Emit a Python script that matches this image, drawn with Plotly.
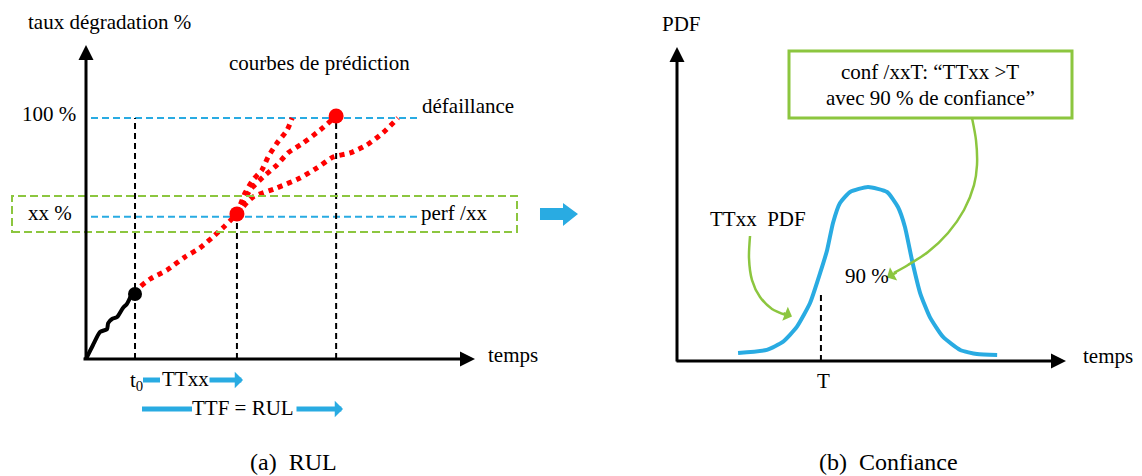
import plotly.graph_objects as go

W, H = 1142, 476

# ---------------- data (left panel: degradation % vs time, arbitrary units) ----------------
hist_t = [0, 1.8, 3.6, 5.4, 5.7, 6.7, 8.0, 9.5, 10.5, 11.8, 12.6]
hist_deg = [0, 5.8, 11.2, 12.4, 14.9, 16.6, 17.4, 21.2, 22.8, 26.6, 27.0]

pred_t = [12.6, 13.9, 16.5, 20.8, 25.4, 29.3, 32.6, 35.7, 38.8]
pred_deg = [27.0, 29.9, 33.2, 36.9, 42.3, 46.1, 50.6, 55.2, 60.2]

fast_t = [38.8, 40.9, 42.9, 45.2, 46.8, 49.1, 51.7, 53.0]
fast_deg = [60.2, 68.9, 74.3, 78.4, 83.8, 89.6, 95.0, 100.0]

mid_t = [38.8, 42.2, 45.5, 49.1, 51.9, 55.8, 60.2, 64.3]
mid_deg = [60.2, 70.1, 75.5, 80.5, 85.5, 89.6, 95.0, 100.8]

slow_t = [38.8, 42.9, 49.1, 55.0, 59.4, 63.5, 67.9, 72.2, 76.3, 80.2]
slow_deg = [60.2, 67.2, 71.0, 75.1, 79.3, 83.8, 85.5, 88.8, 93.8, 100.0]

t0, t_xx, t_ttf = 12.6, 38.8, 64.3
level_fail, level_xx = 100, 59
level_labels = ["100 %", "xx %"]
level_names = ["défaillance", "perf /xx"]

# ---------------- data (right panel: PDF of TTxx) ----------------
pdf_t = [15.7, 23.1, 27.2, 30.8, 34.2, 36.8, 38.6, 40.1, 41.9, 44.5, 49.1,
         54.0, 56.8, 58.6, 60.4, 62.5, 65.0, 68.4, 72.8, 77.1, 82.3]
pdf_v = [0.046, 0.064, 0.110, 0.197, 0.335, 0.509, 0.642, 0.798, 0.913, 0.977, 1.006,
         0.977, 0.890, 0.775, 0.584, 0.393, 0.254, 0.139, 0.064, 0.040, 0.035]
T_val = 37.0
T_pdf = 0.405

call1_t = [18.77, 18.51, 19.28, 21.34, 24.42, 28.02]
call1_v = [0.7225, 0.595, 0.468, 0.370, 0.301, 0.266]
call2_t = [75.84, 76.86, 77.12, 76.35, 73.78, 69.67, 64.52, 59.38, 55.78]
call2_v = [1.405, 1.277, 1.133, 1.017, 0.873, 0.740, 0.630, 0.555, 0.509]

# ---------------- geometry (pixel mapping of the two panels) ----------------
L_O = (86, 359); L_SX, L_SY = 3.89, 2.41
R_O = (677, 361); R_SX, R_SY = 3.89, 173.0

def lx(p): return (p - L_O[0]) / L_SX
def ly(p): return (L_O[1] - p) / L_SY
def rx(p): return (p - R_O[0]) / R_SX
def ry(p): return (R_O[1] - p) / R_SY
def px(p): return p / W
def py(p): return 1 - p / H

BLUE = "#29abe2"
GREEN = "#8cc63f"
RED = "#ff0000"
FONT = "Liberation Serif"

fig = go.Figure()

# dashed level lines
for lev in (level_fail, level_xx):
    fig.add_trace(go.Scatter(x=[lx(91), lx(417)], y=[lev, lev], mode="lines",
                             line=dict(color=BLUE, width=2, dash="7px,4px"),
                             hoverinfo="skip", showlegend=False))
# vertical dashed lines
for tv, top in ((t0, level_fail), (t_xx, pred_deg[-1]), (t_ttf, mid_deg[-1])):
    fig.add_trace(go.Scatter(x=[tv, tv], y=[0, top], mode="lines",
                             line=dict(color="black", width=2, dash="6px,4px"),
                             hoverinfo="skip", showlegend=False))
# history
fig.add_trace(go.Scatter(x=hist_t, y=hist_deg, mode="lines",
                         line=dict(color="black", width=4, shape="spline", smoothing=0.6),
                         hoverinfo="skip", showlegend=False))
# predictions
for xs, ys in ((pred_t, pred_deg), (fast_t, fast_deg), (mid_t, mid_deg), (slow_t, slow_deg)):
    fig.add_trace(go.Scatter(x=xs, y=ys, mode="lines",
                             line=dict(color=RED, width=5, dash="5px,5px", shape="spline", smoothing=0.6),
                             hoverinfo="skip", showlegend=False))
# dots
fig.add_trace(go.Scatter(x=[t0], y=[hist_deg[-1]], mode="markers",
                         marker=dict(color="black", size=14), hoverinfo="skip", showlegend=False))
fig.add_trace(go.Scatter(x=[t_xx, t_ttf], y=[pred_deg[-1], mid_deg[-1]], mode="markers",
                         marker=dict(color=RED, size=15), hoverinfo="skip", showlegend=False))

# right panel
fig.add_trace(go.Scatter(x=pdf_t, y=pdf_v, mode="lines", xaxis="x2", yaxis="y2",
                         line=dict(color=BLUE, width=4, shape="spline", smoothing=0.5),
                         hoverinfo="skip", showlegend=False))
fig.add_trace(go.Scatter(x=[T_val, T_val], y=[0, T_pdf], mode="lines", xaxis="x2", yaxis="y2",
                         line=dict(color="black", width=2, dash="6px,4px"),
                         hoverinfo="skip", showlegend=False))
for xs, ys in ((call1_t, call1_v), (call2_t, call2_v)):
    fig.add_trace(go.Scatter(x=xs, y=ys, mode="lines", xaxis="x2", yaxis="y2",
                             line=dict(color=GREEN, width=2.5, shape="spline", smoothing=0.8),
                             hoverinfo="skip", showlegend=False))

shapes = []
# green dashed box (left)
shapes.append(dict(type="rect", xref="x", yref="y", x0=lx(12), x1=lx(517), y0=ly(232), y1=ly(196),
                   line=dict(color=GREEN, width=2, dash="8px,4px")))
# green solid box (right)
shapes.append(dict(type="rect", xref="paper", yref="paper", x0=px(789), x1=px(1072), y0=py(118), y1=py(51),
                   line=dict(color=GREEN, width=3)))
# big blue arrow between panels
pts = [(540, 208), (563, 208), (563, 203), (578, 214), (563, 226), (563, 220), (540, 220)]
path = "M " + " L ".join(f"{px(a):.5f},{py(b):.5f}" for a, b in pts) + " Z"
shapes.append(dict(type="path", xref="paper", yref="paper", path=path,
                   fillcolor=BLUE, line=dict(color=BLUE, width=0)))
# blue bars of the time arrows
for a, b, yy in ((143, 160, 380), (142, 192, 409)):
    shapes.append(dict(type="line", xref="paper", yref="paper", x0=px(a), x1=px(b), y0=py(yy), y1=py(yy),
                       line=dict(color=BLUE, width=5)))

ann = []
def text(s, x, y, size=21, xanchor="center"):
    ann.append(dict(text=s, x=px(x), y=py(y), xref="paper", yref="paper", showarrow=False,
                    xanchor=xanchor, yanchor="middle", font=dict(family=FONT, size=size, color="black")))

def arrow(xt, yt, xs, ys, xref, yref, color, width, head, size):
    ann.append(dict(text="", x=xt, y=yt, ax=xs, ay=ys, xref=xref, yref=yref, axref=xref, ayref=yref,
                    showarrow=True, arrowhead=head, arrowsize=size, arrowwidth=width, arrowcolor=color,
                    standoff=0))

# axes arrows
arrow(lx(475), 0, lx(82), 0, "x", "y", "black", 3, 2, 1)
arrow(0, ly(45), 0, ly(361), "x", "y", "black", 3, 2, 1)
arrow(rx(1066), 0, rx(675), 0, "x2", "y2", "black", 3, 2, 1)
arrow(0, ry(47), 0, ry(363), "x2", "y2", "black", 3, 2, 1)
# time arrows
arrow(lx(243), ly(380), lx(208), ly(380), "x", "y", BLUE, 5, 1, 0.55)
arrow(lx(343), ly(409), lx(295), ly(409), "x", "y", BLUE, 5, 1, 0.55)
# callout heads
ann.append(dict(text="", x=rx(792), y=ry(316.5), xref="x2", yref="y2", ax=-10, ay=-4,
                showarrow=True, arrowhead=1, arrowsize=1.0, arrowwidth=2.5, arrowcolor=GREEN, standoff=0))
ann.append(dict(text="", x=rx(887), y=ry(277.5), xref="x2", yref="y2", ax=11, ay=-6,
                showarrow=True, arrowhead=1, arrowsize=1.0, arrowwidth=2.5, arrowcolor=GREEN, standoff=0))

# texts left
text("taux dégradation %", 110, 22)
text("courbes de prédiction", 319, 63)
text(level_labels[0], 49, 114)
text(level_labels[1], 50, 213)
text(level_names[0], 420, 106, xanchor="left")
text(level_names[1], 419, 213, xanchor="left")
text("temps", 486, 355, xanchor="left")
text("t<sub>0</sub>", 136, 381)
text("TTxx", 185, 379)
text("TTF = RUL", 243, 408)
text("(a)\u00a0\u00a0RUL", 293, 462, size=24)
# texts right
text("PDF", 681, 24)
text("conf /xxT: \u201cTTxx >T", 930, 72)
text("avec 90 % de confiance\u201d", 930, 98)
text("TTxx\u00a0\u00a0PDF", 758, 219)
text("90 %", 867, 276)
text("T", 823, 381)
text("temps", 1081, 356, xanchor="left")
text("(b)\u00a0\u00a0Confiance", 888, 462, size=24)

fig.update_layout(
    width=W, height=H, autosize=False,
    margin=dict(l=0, r=0, t=0, b=0, pad=0),
    paper_bgcolor="white", plot_bgcolor="white",
    showlegend=False,
    xaxis=dict(range=[lx(0), lx(W)], visible=False, domain=[0, 1], fixedrange=True),
    yaxis=dict(range=[ly(H), ly(0)], visible=False, domain=[0, 1], fixedrange=True),
    xaxis2=dict(range=[rx(0), rx(W)], visible=False, domain=[0, 1], overlaying="x", anchor="y2", fixedrange=True),
    yaxis2=dict(range=[ry(H), ry(0)], visible=False, domain=[0, 1], overlaying="y", anchor="x2", fixedrange=True),
    shapes=shapes,
    annotations=ann,
)

fig.write_html("out.html", config={"displayModeBar": False},
               post_script="document.body.style.margin='0';document.body.style.overflow='hidden';")
